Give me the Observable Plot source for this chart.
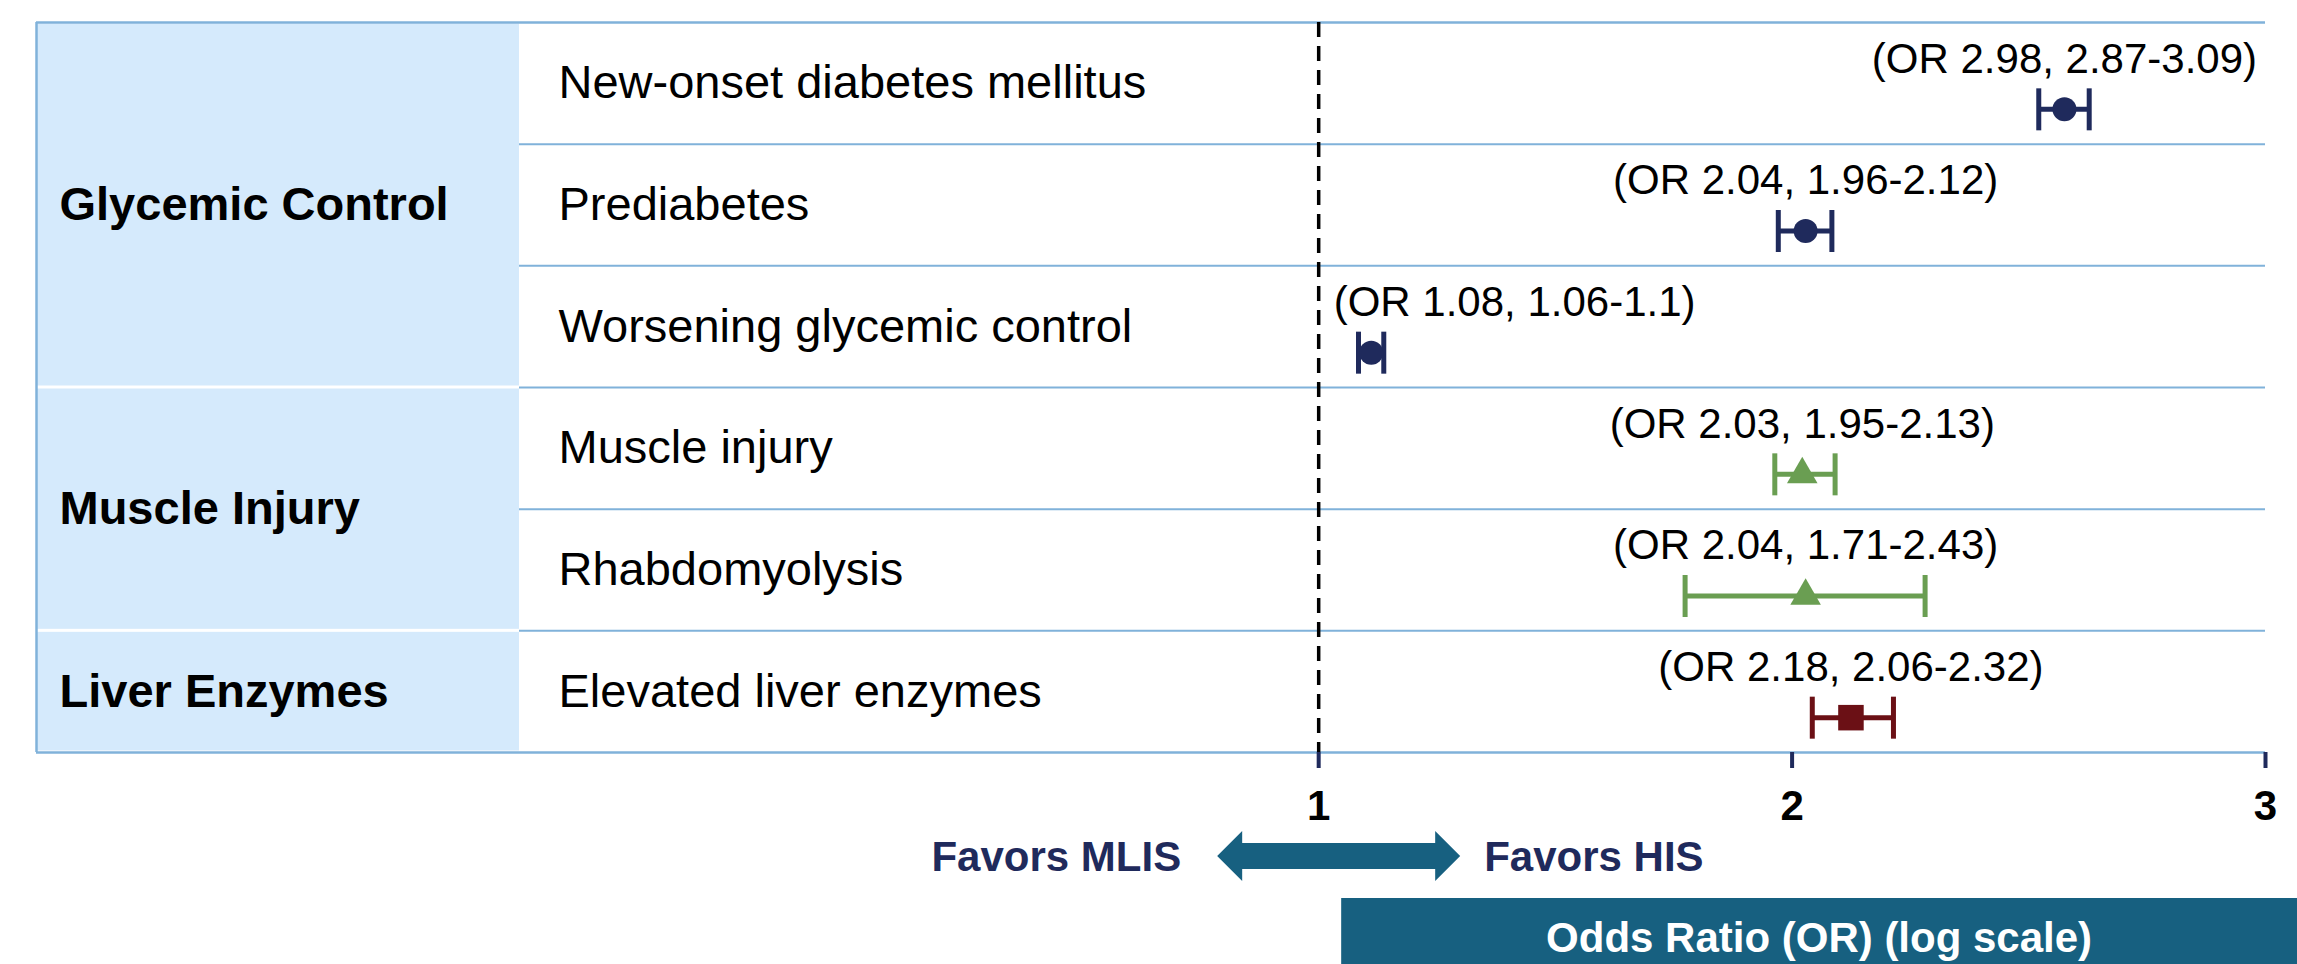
<!DOCTYPE html>
<html>
<head>
<meta charset="utf-8">
<script src="https://cdn.jsdelivr.net/npm/d3@7"></script>
<script src="https://cdn.jsdelivr.net/npm/@observablehq/plot@0.6"></script>
<style>
  html, body { margin: 0; padding: 0; background: white; overflow: hidden; }
  #chart { width: 2297px; height: 964px; }
</style>
</head>
<body>
<div id="chart"></div>
<script>
// ---- data ----
const groups = ["Glycemic Control", "Muscle Injury", "Liver Enzymes"];
const groupSizes = [3, 2, 1];
const outcomes = [
  "New-onset diabetes mellitus",
  "Prediabetes",
  "Worsening glycemic control",
  "Muscle injury",
  "Rhabdomyolysis",
  "Elevated liver enzymes"
];
const outcomeGroup = [0, 0, 0, 1, 1, 2];
const oddsRatio = [2.98, 2.04, 1.08, 2.03, 2.04, 2.18];
const ciLow = [2.87, 1.96, 1.06, 1.95, 1.71, 2.06];
const ciHigh = [3.09, 2.12, 1.10, 2.13, 2.43, 2.32];
const tickValues = [1, 2, 4];
const tickLabels = ["1", "2", "3"];
const favorsLeft = "Favors MLIS";
const favorsRight = "Favors HIS";
const axisTitle = "Odds Ratio (OR) (log scale)";

// ---- styles ----
const groupColor = ["#1f2a5c", "#6a9e52", "#6b1015"];
const groupSymbol = ["circle", "triangle2", "square"];
const groupR = [12, 14.6, 14.4];
const labelAlign = ["middle", "middle", "start", "middle", "middle", "middle"];
const lineBlue = "#80b2da";
const catFill = "#d5eafc";
const teal = "#176080";
const navy = "#1f2a5c";
const FONT = "'Liberation Sans', Arial, Helvetica, sans-serif";

// ---- derived tables ----
const rows = outcomes.map((name, i) => ({
  i, name, group: outcomeGroup[i],
  or: oddsRatio[i], lo: ciLow[i], hi: ciHigh[i],
  label: `(OR ${oddsRatio[i]}, ${ciLow[i]}-${ciHigh[i]})`,
  align: labelAlign[i]
}));
let acc = 0;
const spans = groups.map((name, k) => {
  const start = acc; acc += groupSizes[k];
  return {name, start, end: acc};
});
const dividers = d3.range(1, outcomes.length);

const vbar = {
  draw(ctx, size) {
    const h = Math.sqrt(size / Math.PI);
    ctx.moveTo(0, -h);
    ctx.lineTo(0, h);
  }
};

const W = 2297, H = 964;
const mL = 36, mR = 32, mT = 22, mB = 212;
const xDomain = [0.153, 4];
const markerDy = 26, labelDy = -24;

const marks = [
  // category column background
  Plot.rect(spans, {y1: "start", y2: "end", fill: catFill, insetRight: 1746, insetTop: 1.5, insetBottom: 1.5}),
  // row dividers (right part only)
  Plot.ruleY(dividers, {y: d => d, insetLeft: 483, stroke: lineBlue, strokeWidth: 2}),
  // top & bottom borders
  Plot.ruleY([0, outcomes.length], {stroke: lineBlue, strokeWidth: 2.5}),
  // left border
  Plot.ruleX([xDomain[0]], {y1: 0, y2: outcomes.length, stroke: lineBlue, strokeWidth: 2.5}),
  // reference line at OR = 1
  Plot.ruleX([1], {y1: 0, y2: outcomes.length, stroke: "black", strokeWidth: 3.5, strokeDasharray: "15 9"}),
  // category labels
  Plot.text(spans, {y: d => (d.start + d.end) / 2, text: "name", frameAnchor: "left", textAnchor: "start", dx: 23, fontSize: 47, fontWeight: "bold", fill: "black"}),
  // outcome labels
  Plot.text(rows, {y: d => d.i + 0.5, text: "name", frameAnchor: "left", textAnchor: "start", dx: 522, fontSize: 47, fill: "black"}),
  // OR annotations
  Plot.text(rows.filter(d => d.align === "middle"), {x: "or", y: d => d.i + 0.5, dy: labelDy, text: "label", textAnchor: "middle", fontSize: 42, fill: "black"}),
  Plot.text(rows.filter(d => d.align === "start"), {x: () => 1, y: d => d.i + 0.5, dy: labelDy, dx: 15, text: "label", textAnchor: "start", fontSize: 42, fill: "black"}),
  // x axis
  Plot.axisX(tickValues, {
    tickFormat: d => tickLabels[tickValues.indexOf(d)],
    tickSize: 16, tickPadding: 22, fontSize: 42, fontWeight: "bold",
    stroke: navy, strokeWidth: 4, fill: "black", label: null
  })
];

groups.forEach((g, k) => {
  const sub = rows.filter(d => d.group === k);
  const c = groupColor[k];
  marks.push(
    Plot.ruleY(sub, {y: d => d.i + 0.5, x1: "lo", x2: "hi", dy: markerDy, stroke: c, strokeWidth: 5}),
    Plot.dot(sub, {x: "lo", y: d => d.i + 0.5, dy: markerDy, symbol: vbar, r: 21, stroke: c, strokeWidth: 5, fill: "none"}),
    Plot.dot(sub, {x: "hi", y: d => d.i + 0.5, dy: markerDy, symbol: vbar, r: 21, stroke: c, strokeWidth: 5, fill: "none"}),
    Plot.dot(sub, {x: "or", y: d => d.i + 0.5, dy: markerDy, symbol: groupSymbol[k], r: groupR[k], fill: c, stroke: "none"})
  );
});

const plot = Plot.plot({
  width: W, height: H,
  marginLeft: mL, marginRight: mR, marginTop: mT, marginBottom: mB,
  style: {fontFamily: FONT, background: "white", overflow: "visible"},
  x: {type: "log", base: 2, domain: xDomain},
  y: {domain: [0, outcomes.length], reverse: true, axis: null},
  marks
});

document.getElementById("chart").appendChild(plot);

// ---- bottom legend: direction arrow and axis title banner ----
const svg = d3.select(plot);
const x1 = plot.scale("x").apply(1);
const ay = 856;
const g = svg.append("g");
const L = x1 - 101, R = x1 + 142, hb = 25, sh = 13, hh = 25;
g.append("polygon")
  .attr("points", [
    [L, ay], [L + hb, ay - hh], [L + hb, ay - sh], [R - hb, ay - sh], [R - hb, ay - hh],
    [R, ay], [R - hb, ay + hh], [R - hb, ay + sh], [L + hb, ay + sh], [L + hb, ay + hh]
  ].map(p => p.join(",")).join(" "))
  .attr("fill", teal);
g.append("text").attr("x", L - 36).attr("y", ay).attr("dy", "0.35em")
  .attr("text-anchor", "end").attr("font-size", 42).attr("font-weight", "bold")
  .attr("fill", navy).attr("font-family", FONT).text(favorsLeft);
g.append("text").attr("x", R + 24).attr("y", ay).attr("dy", "0.35em")
  .attr("text-anchor", "start").attr("font-size", 42).attr("font-weight", "bold")
  .attr("fill", navy).attr("font-family", FONT).text(favorsRight);
const bx = x1 + 23, by = 898;
g.append("rect").attr("x", bx).attr("y", by).attr("width", W - bx).attr("height", H - by).attr("fill", teal);
g.append("text").attr("x", (bx + W) / 2).attr("y", (by + H) / 2 + 6).attr("dy", "0.35em")
  .attr("text-anchor", "middle").attr("font-size", 42).attr("font-weight", "bold")
  .attr("fill", "white").attr("font-family", FONT).text(axisTitle);
</script>
</body>
</html>
